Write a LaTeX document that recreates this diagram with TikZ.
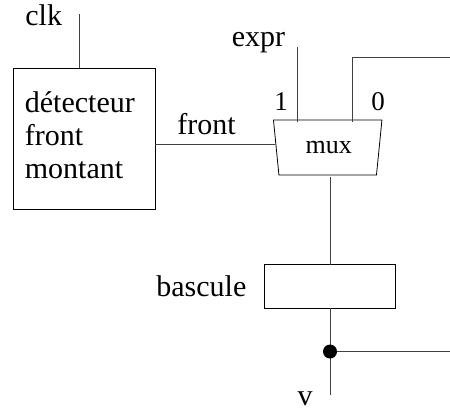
\documentclass[tikz,border=0pt]{standalone}
\usepackage{fontspec}
\setmainfont{Liberation Serif}
\usetikzlibrary{shapes.geometric}
\tikzset{
	box/.style={draw, inner sep=0pt},
	wire/.style={line width=0.8pt, black!75},
	lbl/.style={inner sep=0pt, font=\fontsize{30}{33}\selectfont, anchor=base west}
}
\begin{document}
\begin{tikzpicture}[x=1pt, y=-1pt, line width=0.8pt]
	\useasboundingbox (0,0) rectangle (450,408);
	\node [box, minimum width=141.5pt, minimum height=141pt] (detect) at (84.5,139) {};
	\node [lbl, align=left, anchor=base west] (detecttext) at (24.5,178) {détecteur\\front\\montant};
	\node [draw, trapezium, shape border rotate=180, trapezium stretches=true, trapezium left angle=79, trapezium right angle=79, minimum width=108.5pt, minimum height=55pt, inner sep=1pt, font=\fontsize{26}{30}\selectfont] (mux) at (327.7,147.5) {\hspace{2pt}mux};
	\node [box, minimum width=131pt, minimum height=43.5pt] (bascule) at (330,286.2) {};
	\node [lbl] (clktext) at (25,25) {clk};
	\node [lbl] (exprtext) at (231.5,46) {expr};
	\node [lbl] (fronttext) at (177,134) {front};
	\node [lbl, font=\fontsize{27}{30}\selectfont, anchor=base] (onetext) at (281,110) {1};
	\node [lbl, font=\fontsize{27}{30}\selectfont, anchor=base] (zerotext) at (378,110) {0};
	\node [lbl] (basculetext) at (156,296) {bascule};
	\node [lbl, anchor=base] (vtext) at (305,405) {v};
	\coordinate (clktop) at (79,14);
	\coordinate (clkbot) at (79,68);
	\coordinate (exprtop) at (297,47);
	\coordinate (exprbot) at (297,122);
	\coordinate (loopbot) at (352,122);
	\coordinate (loopcorner) at (352,57);
	\coordinate (loopend) at (450,57);
	\coordinate (frontleft) at (155,144.5);
	\coordinate (frontright) at (275,144.5);
	\coordinate (muxout) at (330,177);
	\coordinate (basculein) at (330,264.5);
	\coordinate (basculeout) at (330,308);
	\coordinate (vend) at (330,395);
	\coordinate (junction) at (330,351.5);
	\coordinate (branchend) at (450,351.5);
	\draw [wire] (clktop) -- (clkbot);
	\draw [wire] (exprtop) -- (exprbot);
	\draw [wire] (loopbot) -- (loopcorner) -- (loopend);
	\draw [wire] (frontleft) -- (frontright);
	\draw [wire] (muxout) -- (basculein);
	\draw [wire] (basculeout) -- (vend);
	\draw [wire] (junction) -- (branchend);
	\fill (junction) circle (7pt);
\end{tikzpicture}
\end{document}
